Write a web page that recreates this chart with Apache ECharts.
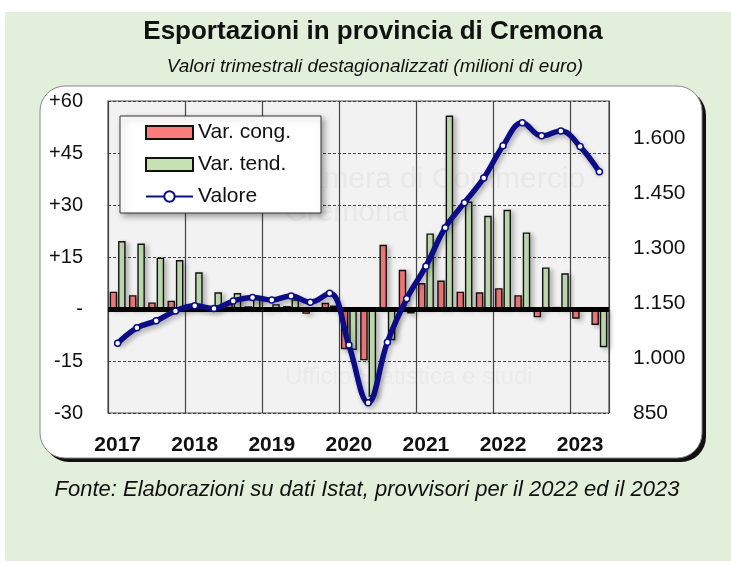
<!DOCTYPE html>
<html>
<head>
<meta charset="utf-8">
<script src="https://cdn.jsdelivr.net/npm/echarts@6/dist/echarts.min.js"></script>
<style>html,body{margin:0;padding:0;background:#fff;}#c{width:731px;height:563px;}</style>
</head>
<body>
<div id="c"></div>
<script>
// ---- data ----
const quarters = [
  '2017 T1','2017 T2','2017 T3','2017 T4',
  '2018 T1','2018 T2','2018 T3','2018 T4',
  '2019 T1','2019 T2','2019 T3','2019 T4',
  '2020 T1','2020 T2','2020 T3','2020 T4',
  '2021 T1','2021 T2','2021 T3','2021 T4',
  '2022 T1','2022 T2','2022 T3','2022 T4',
  '2023 T1','2023 T2'
];
const varCong = [5.0, 4.0, 1.9, 2.4, 1.1, -0.5, 1.6, 0.8, -0.6, 0.9, -1.4, 1.8,
  -11.6, -14.8, 18.5, 11.3, 7.5, 8.2, 5.0, 4.8, 6.0, 4.0, -2.4, 0.6, -2.8, -4.6];
const varTend = [19.6, 18.9, 14.8, 14.1, 10.6, 4.8, 4.6, 3.5, 1.4, 2.8, -0.4, 1.0,
  -11.8, -25.3, -9.0, -1.3, 21.8, 55.8, 31.0, 26.9, 28.6, 22.1, 12.0, 10.3, -0.2, -11.0];
const valore = [1040, 1082, 1101, 1128, 1142, 1135, 1155, 1165, 1158, 1169, 1152, 1176,
  1035, 878, 1043, 1161, 1250, 1355, 1423, 1490, 1578, 1641, 1605, 1618, 1576, 1507];
const seriesNames = ['Var. cong.', 'Var. tend.', 'Valore'];
const titleText = 'Esportazioni in provincia di Cremona';
const subtitleText = 'Valori trimestrali destagionalizzati (milioni di euro)';
const sourceText = 'Fonte: Elaborazioni su dati Istat, provvisori per il 2022 ed il 2023';

const FF = '"Liberation Sans", Arial, sans-serif';
const chart = echarts.init(document.getElementById('c'), null, {renderer: 'canvas'});

const option = {
  animation: false,
  textStyle: {fontFamily: FF},
  graphic: [
    {type: 'rect', z: -20, silent: true, shape: {x: 5, y: 12, width: 726, height: 549}, style: {fill: '#e2efda'}},
    {type: 'rect', z: -19, silent: true, shape: {x: 44, y: 90, width: 662, height: 372, r: 25}, style: {fill: '#111'}},
    {type: 'rect', z: -18, silent: true, shape: {x: 40, y: 86, width: 662, height: 372, r: 25}, style: {fill: '#fff', stroke: '#888', lineWidth: 1}},
    {type: 'text', z: 1, silent: true, x: 373, y: 32, style: {text: titleText, font: 'bold 26px ' + FF, fill: '#111', textAlign: 'center', textVerticalAlign: 'middle'}},
    {type: 'text', z: 1, silent: true, x: 375, y: 67, style: {text: subtitleText, font: 'italic 19px ' + FF, fill: '#111', textAlign: 'center', textVerticalAlign: 'middle'}},
    {type: 'text', z: 1, silent: true, x: 367, y: 490, style: {text: sourceText, font: 'italic 22px ' + FF, fill: '#111', textAlign: 'center', textVerticalAlign: 'middle'}},
    {type: 'text', z: 1, silent: true, x: 285, y: 180, style: {text: 'Camera di Commercio', font: '30px ' + FF, fill: 'rgba(150,150,150,0.10)', textVerticalAlign: 'middle'}},
    {type: 'text', z: 1, silent: true, x: 285, y: 213, style: {text: 'Cremona', font: '30px ' + FF, fill: 'rgba(150,150,150,0.10)', textVerticalAlign: 'middle'}},
    {type: 'text', z: 1, silent: true, x: 285, y: 377, style: {text: 'Ufficio Statistica e studi', font: '24px ' + FF, fill: 'rgba(150,150,150,0.08)', textVerticalAlign: 'middle'}}
  ],
  legend: {
    left: 120, top: 116, orient: 'vertical',
    backgroundColor: '#fff', borderColor: '#333', borderWidth: 1,
    shadowBlur: 6, shadowColor: 'rgba(0,0,0,0.35)', shadowOffsetX: 3, shadowOffsetY: 3,
    padding: [6, 30, 6, 25], itemGap: 11, itemWidth: 47, itemHeight: 13,
    textStyle: {fontSize: 21, color: '#111', fontFamily: FF},
    data: [
      {name: seriesNames[0], icon: 'rect'},
      {name: seriesNames[1], icon: 'rect'},
      {name: seriesNames[2]}
    ]
  },
  grid: {left: 108, right: 122, top: 101, bottom: 150, show: true, backgroundColor: '#f2f2f2', borderColor: '#555', borderWidth: 1.2},
  xAxis: {
    type: 'category', data: quarters, boundaryGap: true,
    axisLine: {show: false, onZero: false}, axisTick: {show: false},
    axisLabel: {interval: (i) => i % 4 === 0, formatter: (v) => v.slice(0, 4), fontSize: 21, fontWeight: 'bold', color: '#111', margin: 22, fontFamily: FF},
    splitLine: {show: true, interval: (i) => i % 4 === 0, lineStyle: {color: '#444', width: 1.2}}
  },
  yAxis: [
    {
      type: 'value', min: -30, max: 60, interval: 15, position: 'left',
      axisLine: {show: false}, axisTick: {show: false},
      axisLabel: {fontSize: 20, color: '#111', margin: 25, fontFamily: FF, formatter: (v) => v > 0 ? '+' + v : (v === 0 ? '-' : String(v))},
      splitLine: {show: true, lineStyle: {color: '#444', type: [3, 2], width: 1}}
    },
    {
      type: 'value', min: 850, max: 1700, interval: 150, position: 'right',
      axisLine: {show: false}, axisTick: {show: false}, splitLine: {show: false},
      axisLabel: {fontSize: 21, color: '#111', margin: 24, fontFamily: FF, showMaxLabel: false,
        formatter: (v) => v >= 1000 ? Math.floor(v / 1000) + '.' + String(v % 1000).padStart(3, '0') : String(v)}
    }
  ],
  series: [
    {
      name: seriesNames[0], type: 'bar', data: varCong, yAxisIndex: 0,
      barWidth: 7.5, barGap: '12%', z: 3,
      itemStyle: {color: '#fa7c7c', borderColor: '#111', borderWidth: 1.4, shadowBlur: 5, shadowColor: 'rgba(0,0,0,0.25)', shadowOffsetX: 3, shadowOffsetY: 2},
      markLine: {silent: true, symbol: 'none', label: {show: false}, lineStyle: {color: '#000', width: 5, type: 'solid'}, data: [{yAxis: 0}], z: 4}
    },
    {
      name: seriesNames[1], type: 'bar', data: varTend, yAxisIndex: 0,
      barWidth: 7.5, barGap: '12%', z: 3,
      itemStyle: {color: '#c6e2b4', borderColor: '#111', borderWidth: 1.4, shadowBlur: 5, shadowColor: 'rgba(0,0,0,0.25)', shadowOffsetX: 3, shadowOffsetY: 2}
    },
    {
      name: seriesNames[2], type: 'line', data: valore, yAxisIndex: 1, smooth: 0.4, z: 5,
      symbol: 'circle', symbolSize: 6, showAllSymbol: true,
      lineStyle: {color: '#0c0c86', width: 5.5, shadowBlur: 5, shadowColor: 'rgba(0,0,0,0.3)', shadowOffsetX: 2, shadowOffsetY: 3},
      itemStyle: {color: '#fff', borderColor: '#0c0c86', borderWidth: 1.5}
    }
  ]
};
chart.setOption(option);
</script>
</body>
</html>
